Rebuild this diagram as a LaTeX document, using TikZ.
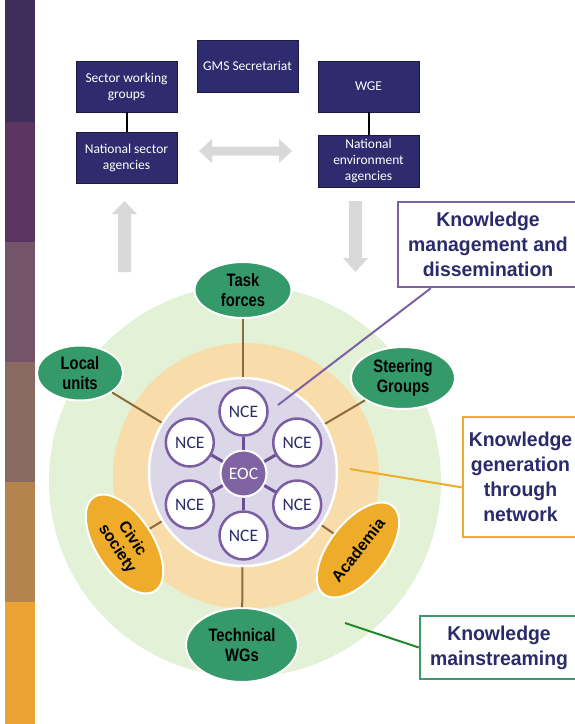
\documentclass[tikz,border=0pt]{standalone}
\usepackage{fontspec}
\setmainfont{Carlito}
\newfontfamily\narrowfont[FakeStretch=0.82]{Liberation Sans}
\newfontfamily\calloutfont[FakeStretch=0.97]{Liberation Sans}
\newfontfamily\plainfont{Liberation Sans}
\usepackage{tikz}
\usetikzlibrary{shapes.geometric}

\definecolor{barA}{HTML}{3F2D5B}
\definecolor{barB}{HTML}{5B3461}
\definecolor{barC}{HTML}{735468}
\definecolor{barD}{HTML}{8A6B62}
\definecolor{barE}{HTML}{B4844E}
\definecolor{barF}{HTML}{EBA434}
\definecolor{navybox}{HTML}{2E2B6E}
\definecolor{navytext}{HTML}{2B2A6B}
\definecolor{ringgreen}{HTML}{E3F1D6}
\definecolor{ringorange}{HTML}{F8DDAA}
\definecolor{ringlav}{HTML}{DCD7E8}
\definecolor{nceviolet}{HTML}{7A5EA3}
\definecolor{eocviolet}{HTML}{7F63A3}
\definecolor{spokeviolet}{HTML}{6B4F92}
\definecolor{groupgreen}{HTML}{359A6A}
\definecolor{grouporange}{HTML}{EEAC2A}
\definecolor{linkbrown}{HTML}{8D6A3A}
\definecolor{arrowgray}{HTML}{D9D9D9}
\definecolor{kmviolet}{HTML}{7B62A3}
\definecolor{kgorange}{HTML}{F0AB2C}
\definecolor{kmsgreen}{HTML}{3C9A6A}
\definecolor{kmsline}{HTML}{1E8A2A}

\tikzset{
  agencybox/.style={draw=navybox!60!black, line width=0.8, fill=navybox, text=white,
    minimum width=101, minimum height=51, inner sep=1, align=center,
    font=\fontsize{13.5}{16}\selectfont},
  callout/.style={draw=#1, line width=2.5, fill=white, text=navytext, inner sep=0,
    align=center, font=\calloutfont\bfseries\fontsize{20}{25}\selectfont},
  greengroup/.style={ellipse, draw=white, line width=2, fill=groupgreen, text=black,
    inner sep=0, align=center, font=\narrowfont\bfseries\fontsize{18}{19.5}\selectfont},
  orangegroup/.style={ellipse, draw=white, line width=2, fill=grouporange, text=black,
    inner sep=0, align=center, minimum width=112, minimum height=57,
    font=\plainfont\bfseries\fontsize{16}{18}\selectfont},
  nce/.style={circle, draw=nceviolet, line width=2.5, fill=white, text=navytext,
    minimum size=48, inner sep=0, font=\fontsize{17.5}{18}\selectfont},
  eoc/.style={circle, draw=white, line width=2, fill=eocviolet, text=white,
    minimum size=46, inner sep=0, font=\fontsize{17.5}{18}\selectfont},
  spoke/.style={spokeviolet, line width=3},
  link/.style={linkbrown, line width=2},
  grayarrow/.style={fill=arrowgray},
}

\begin{document}
\begin{tikzpicture}[x=1pt, y=-1pt]
    \useasboundingbox (0,0) rectangle (574,724);
    % Side bar
    \foreach \ya/\yb/\c in {0/122/barA, 122/242/barB, 242/362/barC, 362/482/barD, 482/602/barE, 602/724/barF} {
        \fill [\c] (5,\ya) rectangle (35,\yb);
    }
    % Agencies
    \node[agencybox] (swg) at (126.5,86.5) {Sector working\\groups};
    \node[agencybox] (nsa) at (126.5,157.5) {National sector\\agencies};
    \node[agencybox, minimum height=52] (gms) at (247.5,66) {GMS Secretariat};
    \node[agencybox] (wge) at (368.5,86.5) {WGE};
    \node[agencybox, minimum height=52] (nea) at (368.5,161) {National\\environment\\agencies};
    \draw [line width=2] (swg) -- (nsa);
    \draw [line width=2] (wge) -- (nea);
    % Gray arrows
    \fill [grayarrow] (199,151) -- (212,139) -- (212,146.5) -- (279,146.5) -- (279,139) -- (292,151)
        -- (279,163) -- (279,155.5) -- (212,155.5) -- (212,163) -- cycle;
    \fill [grayarrow] (118,272) -- (118,214) -- (112,214) -- (124.5,201) -- (137,214) -- (131,214) -- (131,272) -- cycle;
    \fill [grayarrow] (349,201) -- (362,201) -- (362,258) -- (368,258) -- (355.5,272) -- (343,258) -- (349,258) -- cycle;
    % Rings
    \node[circle, fill=ringgreen, minimum size=392, inner sep=0] (outer) at (245,481) {};
    \node[circle, fill=ringorange, minimum size=266, inner sep=0] (middle) at (246,476) {};
    \node[circle, draw=white, line width=2.5, fill=ringlav, minimum size=188, inner sep=0] (lav) at (243,472) {};
    % Network
    \node[eoc] (eoc) at (243.5,473.5) {EOC};
    \foreach \a [count=\n] in {90,30,-30,-90,-150,150} {
        \node[nce] (nce\n) at ([shift={(\a:62)}]eoc) {NCE};
        \draw [spoke] (eoc) -- (nce\n);
    }
    % Groups
    \node[greengroup, minimum width=97, minimum height=56] (task) at (243,290) {Task\\forces};
    \node[greengroup, minimum width=86, minimum height=55] (local) at (80,373) {Local\\units};
    \node[greengroup, minimum width=104, minimum height=62] (steer) at (403,378) {Steering\\Groups};
    \node[greengroup, minimum width=112, minimum height=74] (tech) at (242,645) {Technical\\WGs};
    \node[orangegroup, rotate=-57] (civic) at (124.5,544) {Civic\\society};
    \node[orangegroup, rotate=52] (acad) at (358,550) {Academia};
    \foreach \g in {task, local, steer, tech, civic, acad} {
        \draw [link] (\g) -- (lav);
    }
    % Callouts
    \node[callout=kmviolet, minimum width=180, minimum height=85] (km) at (488,244.5) {Knowledge\\management and\\dissemination};
    \node[callout=kgorange, minimum width=115, minimum height=120] (kg) at (520.5,477) {Knowledge\\generation\\through\\network};
    \node[callout=kmsgreen, minimum width=158, minimum height=63] (kms) at (499,647.5) {Knowledge\\mainstreaming};
    \coordinate (kmtip) at (278,405);
    \coordinate (kgtip) at (350,469);
    \coordinate (kmstip) at (345,623);
    \draw [kmviolet, line width=2] (kmtip) -- (km);
    \draw [kgorange, line width=2] (kgtip) -- (kg.190);
    \draw [kmsline, line width=2] (kmstip) -- (kms.west);
\end{tikzpicture}
\end{document}
